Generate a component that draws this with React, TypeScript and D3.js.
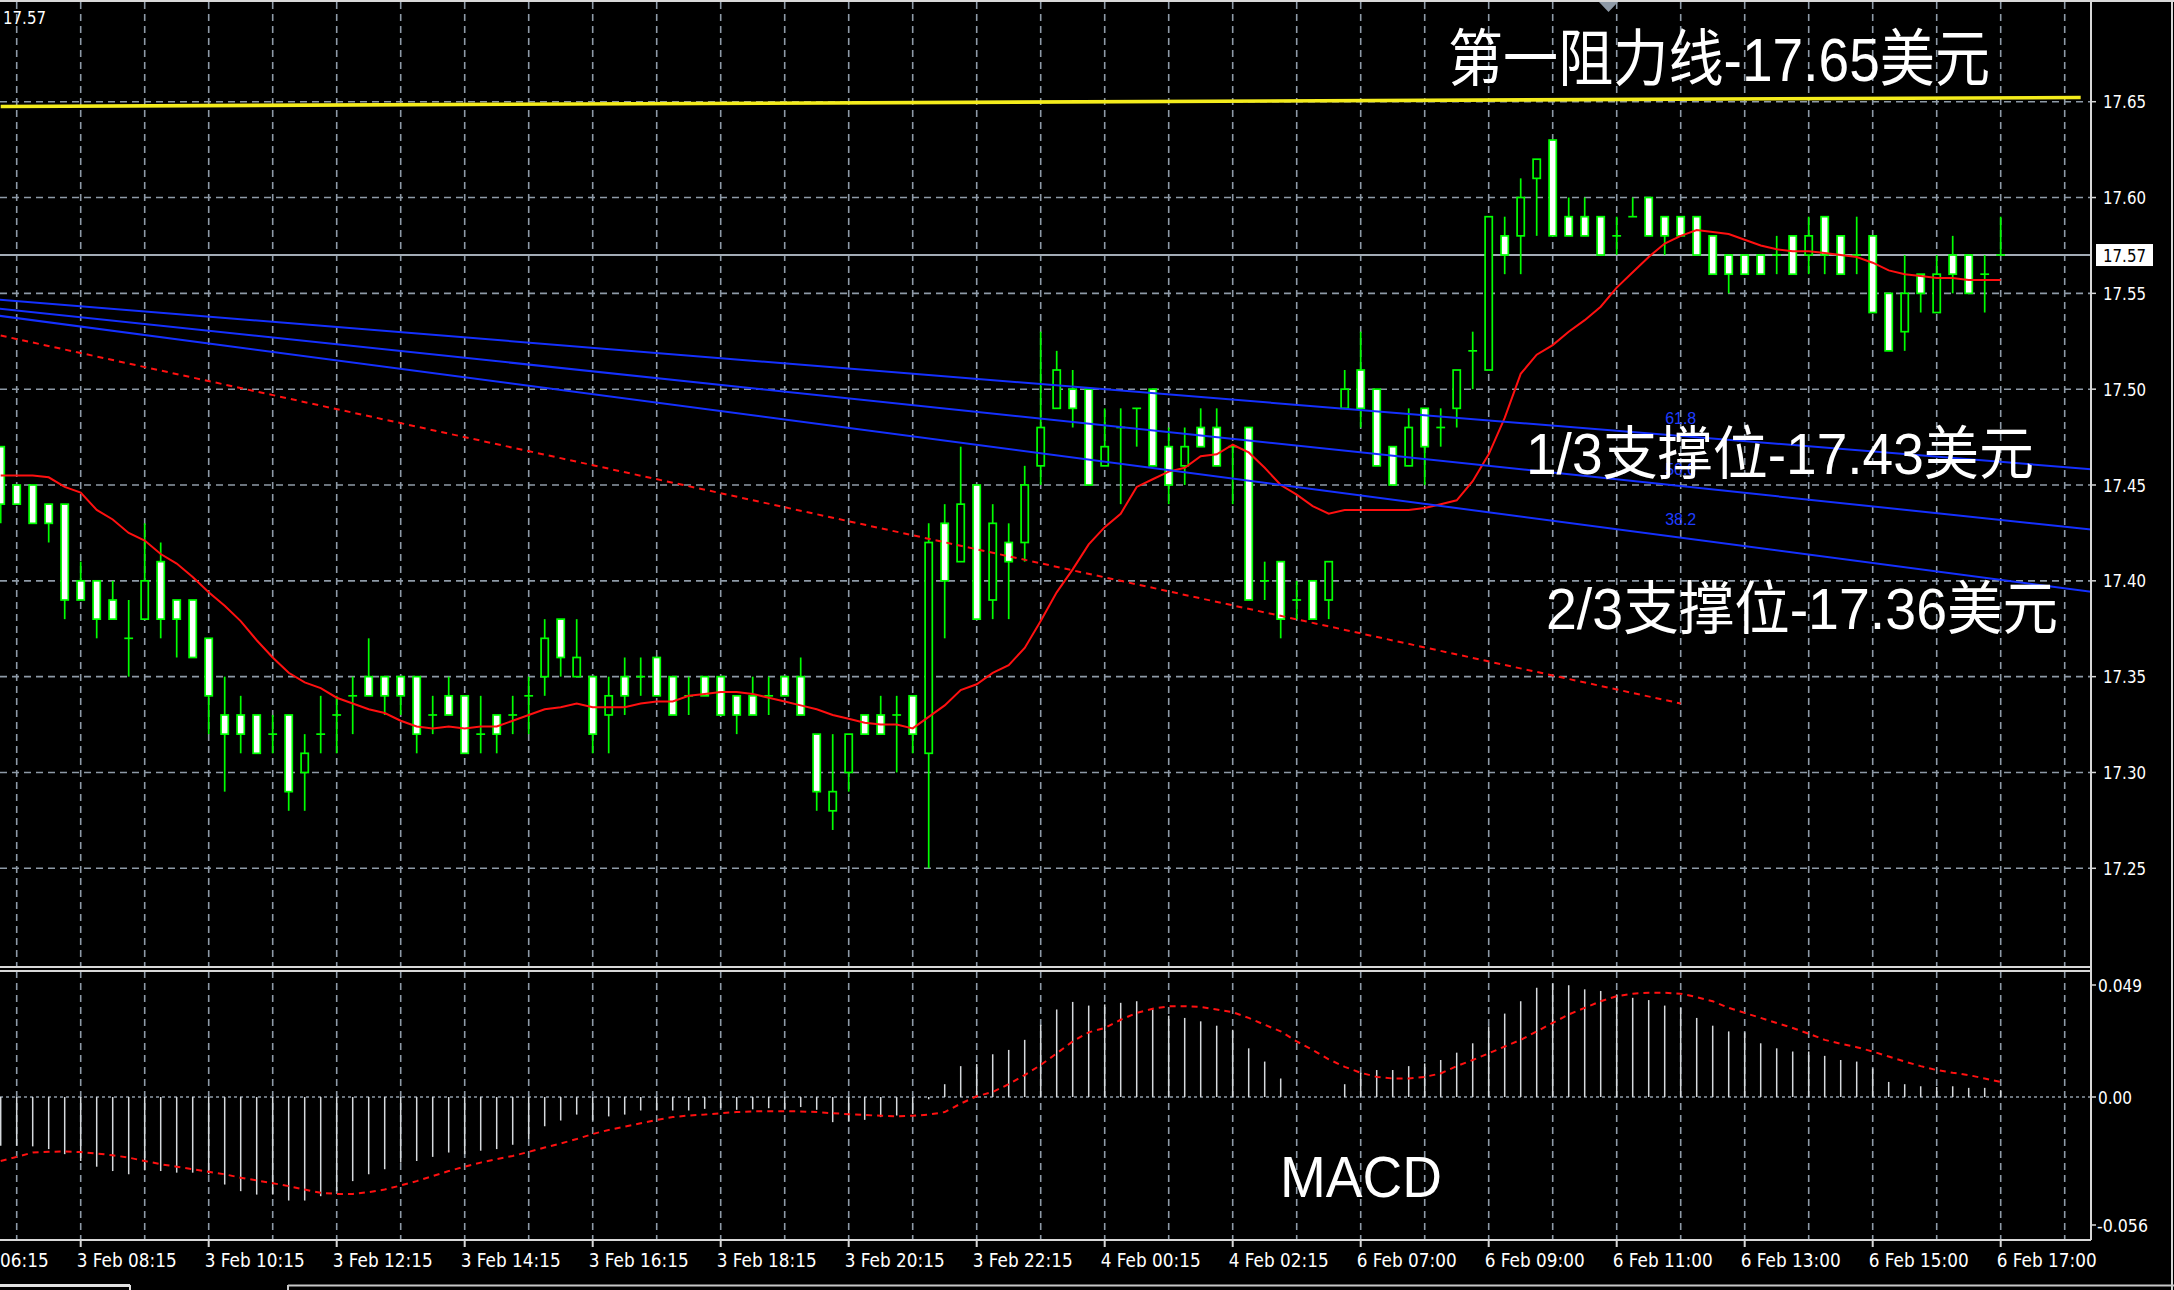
import React from 'react';
import * as d3 from 'd3';

// ---------------- DATA ----------------
const opens = [
  17.47, 17.45, 17.45, 17.44, 17.44, 17.40, 17.40, 17.39, 17.37, 17.38,
  17.41, 17.39, 17.39, 17.37, 17.33, 17.33, 17.33, 17.32, 17.33, 17.30,
  17.32, 17.33, 17.34, 17.35, 17.35, 17.35, 17.35, 17.33, 17.34, 17.34,
  17.32, 17.33, 17.33, 17.34, 17.35, 17.38, 17.35, 17.35, 17.33, 17.35,
  17.35, 17.36, 17.35, 17.34, 17.35, 17.35, 17.34, 17.34, 17.34, 17.35,
  17.35, 17.32, 17.28, 17.30, 17.33, 17.33, 17.33, 17.34, 17.31, 17.43,
  17.41, 17.45, 17.39, 17.42, 17.42, 17.46, 17.49, 17.50, 17.50, 17.46,
  17.48, 17.49, 17.50, 17.47, 17.46, 17.48, 17.48, 17.47, 17.48, 17.40,
  17.41, 17.39, 17.40, 17.39, 17.49, 17.51, 17.50, 17.47, 17.46, 17.49,
  17.48, 17.49, 17.52, 17.51, 17.58, 17.58, 17.61, 17.63, 17.59, 17.59,
  17.59, 17.58, 17.59, 17.60, 17.59, 17.59, 17.59, 17.58, 17.57, 17.57,
  17.57, 17.57, 17.58, 17.57, 17.59, 17.58, 17.57, 17.58, 17.55, 17.53,
  17.56, 17.54, 17.57, 17.57, 17.56, 17.57,
];
const highs = [
  17.47, 17.45, 17.45, 17.44, 17.44, 17.41, 17.40, 17.40, 17.39, 17.43,
  17.42, 17.39, 17.39, 17.37, 17.35, 17.34, 17.33, 17.33, 17.33, 17.32,
  17.34, 17.34, 17.35, 17.37, 17.35, 17.35, 17.35, 17.34, 17.35, 17.34,
  17.34, 17.33, 17.34, 17.35, 17.38, 17.38, 17.38, 17.35, 17.35, 17.36,
  17.36, 17.36, 17.35, 17.35, 17.35, 17.35, 17.34, 17.35, 17.35, 17.35,
  17.36, 17.32, 17.32, 17.32, 17.33, 17.34, 17.34, 17.34, 17.43, 17.44,
  17.47, 17.45, 17.44, 17.43, 17.46, 17.53, 17.52, 17.51, 17.50, 17.49,
  17.49, 17.49, 17.50, 17.48, 17.48, 17.49, 17.49, 17.47, 17.48, 17.41,
  17.41, 17.40, 17.40, 17.41, 17.51, 17.53, 17.50, 17.47, 17.49, 17.49,
  17.49, 17.51, 17.53, 17.59, 17.59, 17.61, 17.62, 17.63, 17.60, 17.60,
  17.59, 17.59, 17.60, 17.60, 17.59, 17.59, 17.59, 17.58, 17.57, 17.57,
  17.57, 17.58, 17.58, 17.59, 17.59, 17.58, 17.59, 17.58, 17.55, 17.57,
  17.56, 17.57, 17.58, 17.57, 17.57, 17.59,
];
const lows = [
  17.43, 17.44, 17.43, 17.42, 17.38, 17.39, 17.37, 17.38, 17.35, 17.38,
  17.37, 17.36, 17.36, 17.32, 17.29, 17.31, 17.31, 17.31, 17.28, 17.28,
  17.31, 17.31, 17.32, 17.34, 17.33, 17.33, 17.31, 17.32, 17.33, 17.31,
  17.31, 17.31, 17.32, 17.32, 17.34, 17.35, 17.35, 17.31, 17.31, 17.33,
  17.34, 17.34, 17.33, 17.33, 17.34, 17.33, 17.32, 17.33, 17.33, 17.34,
  17.33, 17.28, 17.27, 17.29, 17.32, 17.32, 17.30, 17.31, 17.25, 17.37,
  17.41, 17.38, 17.38, 17.38, 17.41, 17.45, 17.49, 17.48, 17.45, 17.46,
  17.44, 17.47, 17.46, 17.44, 17.45, 17.47, 17.46, 17.44, 17.39, 17.39,
  17.37, 17.38, 17.38, 17.38, 17.49, 17.48, 17.46, 17.45, 17.46, 17.45,
  17.47, 17.48, 17.50, 17.51, 17.56, 17.56, 17.58, 17.58, 17.58, 17.58,
  17.57, 17.57, 17.59, 17.58, 17.57, 17.58, 17.57, 17.56, 17.55, 17.56,
  17.56, 17.56, 17.56, 17.56, 17.56, 17.56, 17.56, 17.54, 17.52, 17.52,
  17.54, 17.54, 17.55, 17.55, 17.54, 17.57,
];
const closes = [
  17.44, 17.44, 17.43, 17.43, 17.39, 17.39, 17.38, 17.38, 17.37, 17.40,
  17.38, 17.38, 17.36, 17.34, 17.32, 17.32, 17.31, 17.32, 17.29, 17.31,
  17.32, 17.33, 17.34, 17.34, 17.34, 17.34, 17.32, 17.33, 17.33, 17.31,
  17.32, 17.32, 17.33, 17.34, 17.37, 17.36, 17.36, 17.32, 17.34, 17.34,
  17.35, 17.34, 17.33, 17.34, 17.34, 17.33, 17.33, 17.33, 17.34, 17.34,
  17.33, 17.29, 17.29, 17.32, 17.32, 17.32, 17.33, 17.32, 17.42, 17.40,
  17.44, 17.38, 17.43, 17.41, 17.45, 17.48, 17.51, 17.49, 17.45, 17.47,
  17.48, 17.49, 17.46, 17.45, 17.47, 17.47, 17.46, 17.47, 17.39, 17.40,
  17.38, 17.39, 17.38, 17.41, 17.50, 17.49, 17.46, 17.45, 17.48, 17.47,
  17.48, 17.51, 17.52, 17.59, 17.57, 17.60, 17.62, 17.58, 17.58, 17.58,
  17.57, 17.58, 17.59, 17.58, 17.58, 17.58, 17.57, 17.56, 17.56, 17.56,
  17.56, 17.57, 17.56, 17.58, 17.57, 17.56, 17.57, 17.54, 17.52, 17.55,
  17.55, 17.56, 17.56, 17.55, 17.56, 17.57,
];
const maValues = [
  17.455, 17.455, 17.455, 17.454, 17.449, 17.446, 17.437, 17.432, 17.425, 17.421,
  17.414, 17.409, 17.402, 17.394, 17.387, 17.379, 17.369, 17.360, 17.352, 17.347,
  17.344, 17.339, 17.336, 17.333, 17.331, 17.327, 17.324, 17.323, 17.324, 17.323,
  17.324, 17.324, 17.327, 17.330, 17.333, 17.334, 17.336, 17.334, 17.334, 17.334,
  17.336, 17.337, 17.337, 17.340, 17.341, 17.342, 17.342, 17.341, 17.339, 17.337,
  17.335, 17.333, 17.330, 17.328, 17.326, 17.325, 17.325, 17.323, 17.329, 17.335,
  17.343, 17.346, 17.352, 17.356, 17.365, 17.379, 17.394, 17.406, 17.419, 17.428,
  17.435, 17.449, 17.453, 17.457, 17.459, 17.465, 17.466, 17.471, 17.467, 17.459,
  17.450, 17.445, 17.439, 17.435, 17.437, 17.437, 17.437, 17.437, 17.437, 17.438,
  17.440, 17.442, 17.452, 17.466, 17.485, 17.508, 17.518, 17.523, 17.530, 17.536,
  17.543, 17.553, 17.561, 17.569, 17.576, 17.580, 17.583, 17.582, 17.581, 17.578,
  17.575, 17.573, 17.572, 17.572, 17.571, 17.570, 17.569, 17.566, 17.562, 17.560,
  17.559, 17.558, 17.558, 17.557, 17.557, 17.557,
];
const macdHist = [
  -0.0213, -0.0213, -0.0216, -0.0228, -0.0250, -0.0280, -0.0305, -0.0324, -0.0338, -0.0321,
  -0.0324, -0.0331, -0.0331, -0.0338, -0.0383, -0.0412, -0.0427, -0.0427, -0.0453, -0.0453,
  -0.0434, -0.0412, -0.0368, -0.0338, -0.0316, -0.0287, -0.0280, -0.0262, -0.0243, -0.0250,
  -0.0235, -0.0228, -0.0209, -0.0184, -0.0128, -0.0103, -0.0077, -0.0103, -0.0085, -0.0077,
  -0.0059, -0.0059, -0.0059, -0.0059, -0.0052, -0.0049, -0.0056, -0.0054, -0.0049, -0.0052,
  -0.0044, -0.0056, -0.0110, -0.0106, -0.0100, -0.0088, -0.0081, -0.0074, -0.0010, 0.0056,
  0.0135, 0.0144, 0.0187, 0.0206, 0.0250, 0.0316, 0.0383, 0.0416, 0.0400, 0.0405,
  0.0412, 0.0419, 0.0383, 0.0356, 0.0346, 0.0331, 0.0312, 0.0294, 0.0213, 0.0155,
  0.0081, 0.0000, 0.0000, 0.0000, 0.0056, 0.0106, 0.0118, 0.0118, 0.0135, 0.0147,
  0.0162, 0.0194, 0.0235, 0.0309, 0.0365, 0.0419, 0.0478, 0.0497, 0.0489, 0.0471,
  0.0464, 0.0449, 0.0434, 0.0424, 0.0400, 0.0390, 0.0346, 0.0312, 0.0287, 0.0283,
  0.0235, 0.0213, 0.0199, 0.0199, 0.0180, 0.0162, 0.0155, 0.0125, 0.0066, 0.0056,
  0.0047, 0.0044, 0.0047, 0.0040, 0.0040, 0.0030,
];
const macdSignal = [
  -0.0280, -0.0262, -0.0243, -0.0240, -0.0238, -0.0241, -0.0247, -0.0255, -0.0265, -0.0280,
  -0.0294, -0.0305, -0.0316, -0.0327, -0.0338, -0.0353, -0.0365, -0.0377, -0.0390, -0.0405,
  -0.0419, -0.0424, -0.0424, -0.0416, -0.0405, -0.0387, -0.0368, -0.0346, -0.0324, -0.0305,
  -0.0287, -0.0272, -0.0258, -0.0240, -0.0221, -0.0203, -0.0184, -0.0162, -0.0144, -0.0130,
  -0.0115, -0.0100, -0.0088, -0.0081, -0.0077, -0.0071, -0.0066, -0.0063, -0.0062, -0.0062,
  -0.0063, -0.0066, -0.0071, -0.0075, -0.0079, -0.0082, -0.0085, -0.0082, -0.0077, -0.0066,
  -0.0029, 0.0003, 0.0022, 0.0056, 0.0096, 0.0140, 0.0191, 0.0243, 0.0283, 0.0302,
  0.0338, 0.0368, 0.0386, 0.0397, 0.0397, 0.0394, 0.0383, 0.0371, 0.0346, 0.0316,
  0.0287, 0.0243, 0.0206, 0.0165, 0.0132, 0.0106, 0.0088, 0.0081, 0.0081, 0.0088,
  0.0103, 0.0135, 0.0162, 0.0191, 0.0221, 0.0250, 0.0287, 0.0324, 0.0361, 0.0390,
  0.0419, 0.0441, 0.0452, 0.0456, 0.0456, 0.0452, 0.0437, 0.0419, 0.0390, 0.0368,
  0.0346, 0.0324, 0.0302, 0.0277, 0.0250, 0.0233, 0.0218, 0.0199, 0.0177, 0.0155,
  0.0135, 0.0118, 0.0106, 0.0096, 0.0081, 0.0066,
];
const priceTicks = [17.25, 17.3, 17.35, 17.4, 17.45, 17.5, 17.55, 17.6, 17.65];
const macdTicks = [0.049, 0, -0.056];
const timeLabels = [
  '3 Feb 06:15', '3 Feb 08:15', '3 Feb 10:15', '3 Feb 12:15', '3 Feb 14:15',
  '3 Feb 16:15', '3 Feb 18:15', '3 Feb 20:15', '3 Feb 22:15', '4 Feb 00:15',
  '4 Feb 02:15', '6 Feb 07:00', '6 Feb 09:00', '6 Feb 11:00', '6 Feb 13:00',
  '6 Feb 15:00', '6 Feb 17:00',
];
const TIME_LABEL_FIRST_BAR = -3;
const BARS_PER_LABEL = 8;
const BARS_PER_GRID = 4;
const currentPrice = 17.57;
// trend objects: [bar index, price]
const resistanceBars = [0, 130];
const resistancePrices = [17.6475, 17.6522];
const redTrendBars = [0, 105];
const redTrendPrices = [17.528, 17.336];
const fanBars = [-1, 131];
const fan618 = [17.5473, 17.458];
const fan500 = [17.5428, 17.4265];
const fan382 = [17.5393, 17.3939];
const fanLabelBar = 105;

// ---------------- STYLE ----------------
const W = 2174, H = 1290;
const RIGHT = 2091;
const MAIN_TOP = 2, MAIN_BOTTOM = 966;
const MACD_TOP = 971, MACD_BOTTOM = 1240;
const GREEN = '#00ff00';
const GRID = '#8e9aa7';
const AXIS_FONT = "'DejaVu Sans', sans-serif";
const BIG_FONT = "'Liberation Sans', 'Noto Sans CJK SC', sans-serif";

export default function App() {
  const n = opens.length;
  const x = d3.scaleLinear().domain([0, n - 1]).range([0.7, 0.7 + 16 * (n - 1)]);
  const y = d3.scaleLinear().domain([17.25, 17.65]).range([868.3, 101.7]);
  const ym = d3.scaleLinear().domain([-0.056, 0.049]).range([1225, 985]);

  const maLine = d3.line<number>().x((_, i) => x(i)).y((d) => y(d));
  const sigLine = d3.line<number>().x((_, i) => x(i)).y((d) => ym(d));
  const twoPoint = (bars: number[], prices: number[]) =>
    d3.line<number>().x((_, i) => x(bars[i])).y((d) => y(d))(prices) || '';

  const gridBars = d3.range(1, (RIGHT - 0.7) / 16, BARS_PER_GRID);
  const fanAt = (arr: number[], bar: number) =>
    y(arr[0] + ((arr[1] - arr[0]) * (bar - fanBars[0])) / (fanBars[1] - fanBars[0]));

  return (
    <svg
      width={W}
      height={H}
      viewBox={`0 0 ${W} ${H}`}
      style={{ position: 'fixed', left: 0, top: 0, background: '#000', display: 'block' }}
    >
      <defs>
        <clipPath id="mainClip">
          <rect x={0} y={MAIN_TOP} width={RIGHT} height={MAIN_BOTTOM - MAIN_TOP} />
        </clipPath>
        <clipPath id="macdClip">
          <rect x={0} y={MACD_TOP + 1} width={RIGHT} height={MACD_BOTTOM - MACD_TOP - 2} />
        </clipPath>
      </defs>
      <rect x={0} y={0} width={W} height={H} fill="#000" />

      {/* grid main */}
      <g clipPath="url(#mainClip)" stroke={GRID} strokeWidth={1.6} strokeDasharray="7 5">
        {gridBars.map((b) => (
          <line key={'gv' + b} x1={x(b)} x2={x(b)} y1={MAIN_TOP} y2={MAIN_BOTTOM} />
        ))}
        {priceTicks.map((p) => (
          <line key={'gh' + p} x1={0} x2={RIGHT} y1={y(p)} y2={y(p)} />
        ))}
      </g>
      {/* current price line */}
      <line x1={0} x2={RIGHT} y1={y(currentPrice)} y2={y(currentPrice)} stroke="#a3acb6" strokeWidth={1.8} />

      {/* candles */}
      <g clipPath="url(#mainClip)">
        {opens.map((o, i) => {
          const h = highs[i], l = lows[i], c = closes[i];
          const cx = x(i);
          const top = y(Math.max(o, c));
          const bot = y(Math.min(o, c));
          const bull = c > o;
          return (
            <g key={'c' + i}>
              {h > l && <line x1={cx} x2={cx} y1={y(h)} y2={y(l)} stroke={GREEN} strokeWidth={1.7} />}
              {o === c ? (
                <line x1={cx - 4.4} x2={cx + 4.4} y1={top} y2={top} stroke={GREEN} strokeWidth={1.7} />
              ) : (
                <rect x={cx - 3.6} y={top} width={7.2} height={bot - top} fill={bull ? '#000' : '#fff'} stroke={GREEN} strokeWidth={1.7} />
              )}
            </g>
          );
        })}
      </g>

      {/* indicators & objects */}
      <g clipPath="url(#mainClip)" fill="none">
        <path d={maLine(maValues) || ''} stroke="#ff1010" strokeWidth={2} />
        <path d={twoPoint(redTrendBars, redTrendPrices)} stroke="#ff1010" strokeWidth={2} strokeDasharray="6 5" />
        <path d={twoPoint(fanBars, fan618)} stroke="#1430ff" strokeWidth={2} />
        <path d={twoPoint(fanBars, fan500)} stroke="#1430ff" strokeWidth={2} />
        <path d={twoPoint(fanBars, fan382)} stroke="#1430ff" strokeWidth={2} />
        <path d={twoPoint(resistanceBars, resistancePrices)} stroke="#f4ec1c" strokeWidth={3.6} />
      </g>
      <g fill="#1f3dff" fontFamily="'Liberation Sans', sans-serif" fontSize={16} textAnchor="middle">
        <text x={x(fanLabelBar)} y={fanAt(fan618, fanLabelBar) - 12}>61.8</text>
        <text x={x(fanLabelBar)} y={fanAt(fan500, fanLabelBar) - 11}>50.0</text>
        <text x={x(fanLabelBar)} y={fanAt(fan382, fanLabelBar) - 13}>38.2</text>
      </g>

      {/* shift marker */}
      <path d="M1599,2 L1618,2 L1608.5,12 Z" fill="#8d99a6" />

      {/* top-left price */}
      <text x={3} y={24} fill="#fff" fontFamily={AXIS_FONT} fontSize={18} textLength={43} lengthAdjust="spacingAndGlyphs">
        17.57
      </text>

      {/* MACD panel */}
      <g clipPath="url(#macdClip)">
        <g stroke={GRID} strokeWidth={1.6} strokeDasharray="7 5">
          {gridBars.map((b) => (
            <line key={'mv' + b} x1={x(b)} x2={x(b)} y1={MACD_TOP} y2={MACD_BOTTOM} />
          ))}
        </g>
        <line x1={0} x2={RIGHT} y1={ym(0)} y2={ym(0)} stroke={GRID} strokeWidth={1.6} strokeDasharray="3 3" />
        <g stroke="#d6dadd" strokeWidth={1.5}>
          {macdHist.map((v, i) =>
            v !== 0 ? <line key={'h' + i} x1={x(i)} x2={x(i)} y1={ym(0)} y2={ym(v)} /> : null
          )}
        </g>
        <path d={sigLine(macdSignal) || ''} fill="none" stroke="#ff1010" strokeWidth={2} strokeDasharray="6 5" />
      </g>

      {/* borders */}
      <g stroke="#d8d8d8" strokeWidth={2} fill="none">
        <line x1={0} x2={W} y1={1} y2={1} />
        <line x1={0} x2={RIGHT} y1={MAIN_BOTTOM + 1} y2={MAIN_BOTTOM + 1} />
        <line x1={0} x2={RIGHT} y1={MACD_TOP} y2={MACD_TOP} />
        <line x1={0} x2={RIGHT} y1={MACD_BOTTOM} y2={MACD_BOTTOM} />
        <line x1={RIGHT} x2={RIGHT} y1={0} y2={MACD_BOTTOM} />
        <line x1={W - 2} x2={W - 2} y1={0} y2={H} />
      </g>

      {/* right price axis */}
      <g fill="#fff" fontFamily={AXIS_FONT} fontSize={17}>
        {priceTicks.map((p) => (
          <g key={'pt' + p}>
            <line x1={RIGHT} x2={RIGHT + 5} y1={y(p)} y2={y(p)} stroke="#d8d8d8" strokeWidth={1.5} />
            <text x={2103} y={y(p) + 6.5} textLength={43} lengthAdjust="spacingAndGlyphs">
              {p.toFixed(2)}
            </text>
          </g>
        ))}
      </g>
      {/* current price box */}
      <rect x={2096} y={y(currentPrice) - 11} width={57} height={22} fill="#fff" />
      <text x={2103} y={y(currentPrice) + 6.5} fill="#000" fontFamily={AXIS_FONT} fontSize={17} textLength={43} lengthAdjust="spacingAndGlyphs">
        {currentPrice.toFixed(2)}
      </text>

      {/* MACD axis */}
      <g fill="#fff" fontFamily={AXIS_FONT} fontSize={17}>
        {macdTicks.map((v) => {
          const label = v === 0 ? '0.00' : v.toFixed(3);
          const len = label.length === 4 ? 34 : label.length === 5 ? 44 : 51;
          return (
            <g key={'mt' + v}>
              <line x1={RIGHT} x2={RIGHT + 5} y1={ym(v)} y2={ym(v)} stroke="#d8d8d8" strokeWidth={1.5} />
              <text x={label.startsWith('-') ? 2097 : 2098} y={ym(v) + 6.5} textLength={len} lengthAdjust="spacingAndGlyphs">
                {label}
              </text>
            </g>
          );
        })}
      </g>

      {/* time axis */}
      <g fill="#fff" fontFamily={AXIS_FONT} fontSize={20}>
        {timeLabels.map((t, i) => {
          const b = TIME_LABEL_FIRST_BAR + i * BARS_PER_LABEL;
          return (
            <g key={'t' + i}>
              <line x1={x(b)} x2={x(b)} y1={MACD_BOTTOM} y2={MACD_BOTTOM + 7} stroke="#d8d8d8" strokeWidth={2} />
              <text x={x(b) - 4} y={1267} textLength={100} lengthAdjust="spacingAndGlyphs">
                {t}
              </text>
            </g>
          );
        })}
      </g>

      {/* bottom tab bar */}
      <line x1={0} x2={130} y1={1285.5} y2={1285.5} stroke="#e2e2e2" strokeWidth={3} />
      <line x1={130} x2={130} y1={1285} y2={H} stroke="#e2e2e2" strokeWidth={2} />
      <line x1={288} x2={288} y1={1285} y2={H} stroke="#c8c8c8" strokeWidth={2} />
      <line x1={288} x2={W} y1={1285.5} y2={1285.5} stroke="#c8c8c8" strokeWidth={2} />

      {/* annotations */}
      <g fill="#fff" fontFamily={BIG_FONT}>
        <text x={1448} y={80.5} fontSize={62} textLength={542} lengthAdjust="spacingAndGlyphs">
          第一阻力线-17.65美元
        </text>
        <text x={1526} y={473.5} fontSize={58} textLength={508} lengthAdjust="spacingAndGlyphs">
          1/3支撑位-17.43美元
        </text>
        <text x={1546} y={629} fontSize={58} textLength={512} lengthAdjust="spacingAndGlyphs">
          2/3支撑位-17.36美元
        </text>
        <text x={1280} y={1197} fontSize={58} textLength={162} lengthAdjust="spacingAndGlyphs">
          MACD
        </text>
      </g>
    </svg>
  );
}
